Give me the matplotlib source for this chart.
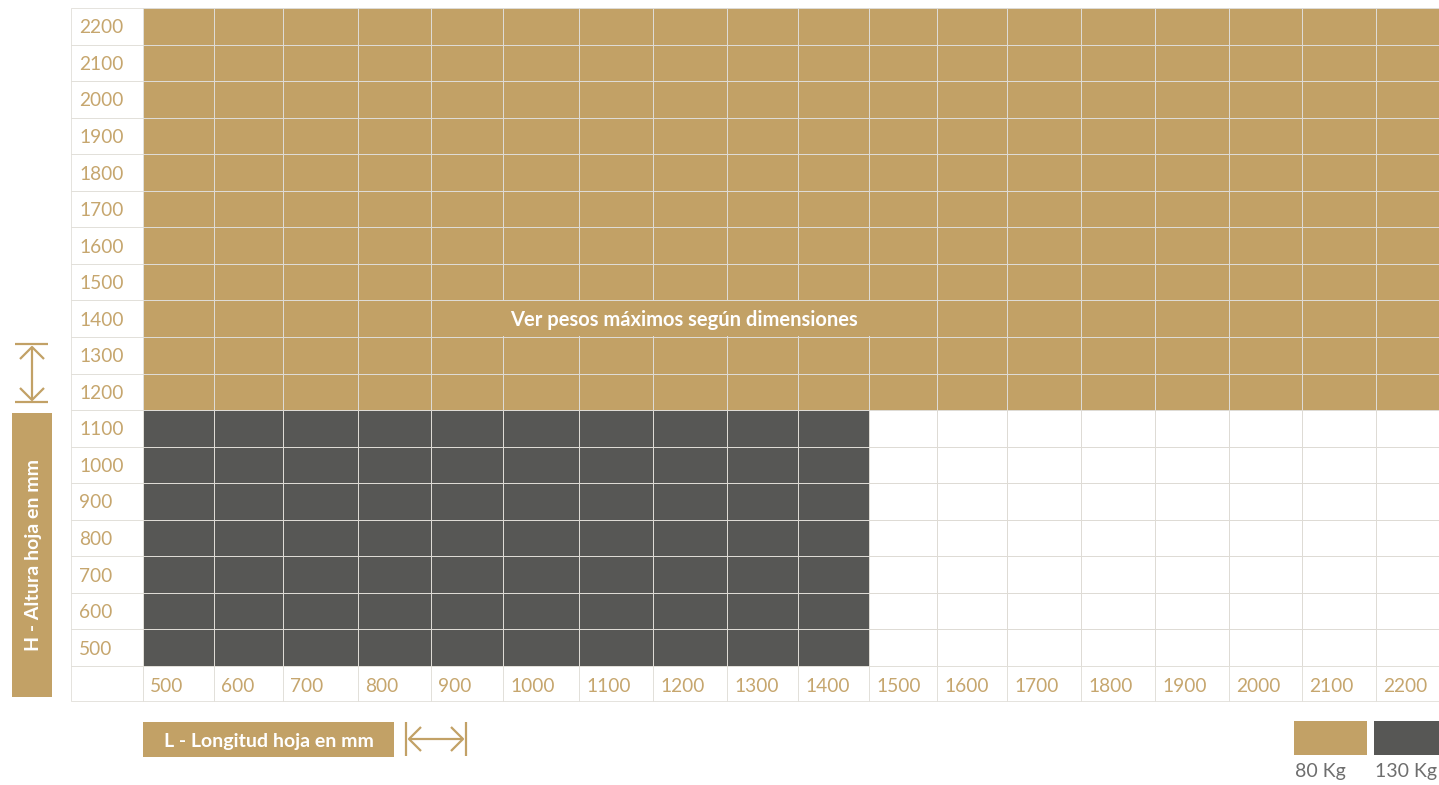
import numpy as np
import matplotlib.pyplot as plt
from matplotlib.patches import Rectangle
from matplotlib.colors import ListedColormap

# data
lengths = [500, 600, 700, 800, 900, 1000, 1100, 1200, 1300, 1400,
           1500, 1600, 1700, 1800, 1900, 2000, 2100, 2200]
heights = [500, 600, 700, 800, 900, 1000, 1100, 1200, 1300, 1400,
           1500, 1600, 1700, 1800, 1900, 2000, 2100, 2200]
max_len_130 = 1400      # 130 Kg zone: L <= 1400
max_h_130 = 1100        # and H <= 1100
min_h_80 = 1200         # 80 Kg zone: H >= 1200
note_text = 'Ver pesos máximos según dimensiones'
note_row = 1400
note_cols = (900, 1500)
legend_labels = ['80 Kg', '130 Kg']
x_title = 'L - Longitud hoja en mm'
y_title = 'H - Altura hoja en mm'

GOLD = '#c2a166'
DARK = '#575755'
TICK = '#c6a66e'
GRID = '#dedbd5'

plt.rcParams['font.family'] = ['Lato', 'DejaVu Sans']

# layout in pixels (figure 1439 x 785)
col_edges = [143, 214, 283, 358, 431, 503, 579, 653, 727, 798, 869, 937,
             1007, 1081, 1155, 1229, 1302, 1376, 1452]
row_edges = np.linspace(666, 8, len(heights) + 1)   # bottom (500) -> top (2200)
label_left = 71
label_bottom = 701
LW = 0.55

fig = plt.figure(figsize=(14.39, 7.85), dpi=100)
ax = fig.add_axes([0, 0, 1, 1])
ax.set_xlim(0, 1439)
ax.set_ylim(785, 0)
ax.axis('off')

# zone matrix: 0 white, 1 = 80 Kg, 2 = 130 Kg
zones = np.zeros((len(heights), len(lengths)))
for i, h in enumerate(heights):
    for j, l in enumerate(lengths):
        if h >= min_h_80:
            zones[i, j] = 1
        elif h <= max_h_130 and l <= max_len_130:
            zones[i, j] = 2
cmap = ListedColormap(['white', GOLD, DARK])
ax.pcolormesh(col_edges, row_edges, zones, cmap=cmap, vmin=0, vmax=2,
              edgecolors=GRID, linewidth=LW)

# merged note cell
r = heights.index(note_row)
c0 = lengths.index(note_cols[0])
c1 = lengths.index(note_cols[1]) + 1
ax.add_patch(Rectangle((col_edges[c0] + 1, row_edges[r + 1] + 1),
                       col_edges[c1] - col_edges[c0] - 2,
                       row_edges[r] - row_edges[r + 1] - 2,
                       facecolor=GOLD, edgecolor='none', zorder=3))
ax.text((col_edges[c0] + col_edges[c1]) / 2, (row_edges[r] + row_edges[r + 1]) / 2 + 1,
        note_text, color='white', fontsize=14.5, fontweight='bold',
        ha='center', va='center', zorder=4)

# row label column
for i, h in enumerate(heights):
    ax.add_patch(Rectangle((label_left, row_edges[i + 1]), col_edges[0] - label_left,
                           row_edges[i] - row_edges[i + 1], facecolor='white',
                           edgecolor=GRID, linewidth=LW))
    ax.text(label_left + 8, (row_edges[i] + row_edges[i + 1]) / 2 + 1.5, str(h),
            color=TICK, fontsize=13.8, ha='left', va='center')

# bottom label row
ax.add_patch(Rectangle((label_left, row_edges[0]), col_edges[0] - label_left,
                       label_bottom - row_edges[0], facecolor='white',
                       edgecolor=GRID, linewidth=LW))
for j, l in enumerate(lengths):
    ax.add_patch(Rectangle((col_edges[j], row_edges[0]), col_edges[j + 1] - col_edges[j],
                           label_bottom - row_edges[0], facecolor='white',
                           edgecolor=GRID, linewidth=LW))
    ax.text(col_edges[j] + 7, (row_edges[0] + label_bottom) / 2 + 2.5, str(l),
            color=TICK, fontsize=13.8, ha='left', va='center')

# axis titles
ax.add_patch(Rectangle((12, 413), 40, 284, facecolor=GOLD, edgecolor='none'))
ax.text(34, 555, y_title, color='white', fontsize=14, fontweight='bold',
        rotation=90, ha='center', va='center')
ax.add_patch(Rectangle((143, 722), 251, 35, facecolor=GOLD, edgecolor='none'))
ax.text(269, 742, x_title, color='white', fontsize=14, fontweight='bold',
        ha='center', va='center')

# arrow icons
akw = dict(color=GOLD, lw=1.6, solid_capstyle='butt')
ax.plot([15, 48], [344, 344], **akw)
ax.plot([15, 48], [402, 402], **akw)
ax.plot([32, 32], [347, 399], **akw)
ax.plot([20, 32, 44], [359, 347, 359], **akw)
ax.plot([20, 32, 44], [388, 400, 388], **akw)

ax.plot([406, 406], [722, 756], **akw)
ax.plot([466, 466], [722, 756], **akw)
ax.plot([409, 463], [739, 739], **akw)
ax.plot([421, 409, 421], [727, 739, 751], **akw)
ax.plot([451, 463, 451], [727, 739, 751], **akw)

# legend
for x0, w, col, lab in [(1294, 73, GOLD, legend_labels[0]),
                        (1374, 70, DARK, legend_labels[1])]:
    ax.add_patch(Rectangle((x0, 721), w, 34, facecolor=col, edgecolor='none'))
    ax.text(x0 + 1, 771, lab, color='#6e6e6e', fontsize=14, ha='left', va='center')

fig.savefig('out.png', dpi=100)
